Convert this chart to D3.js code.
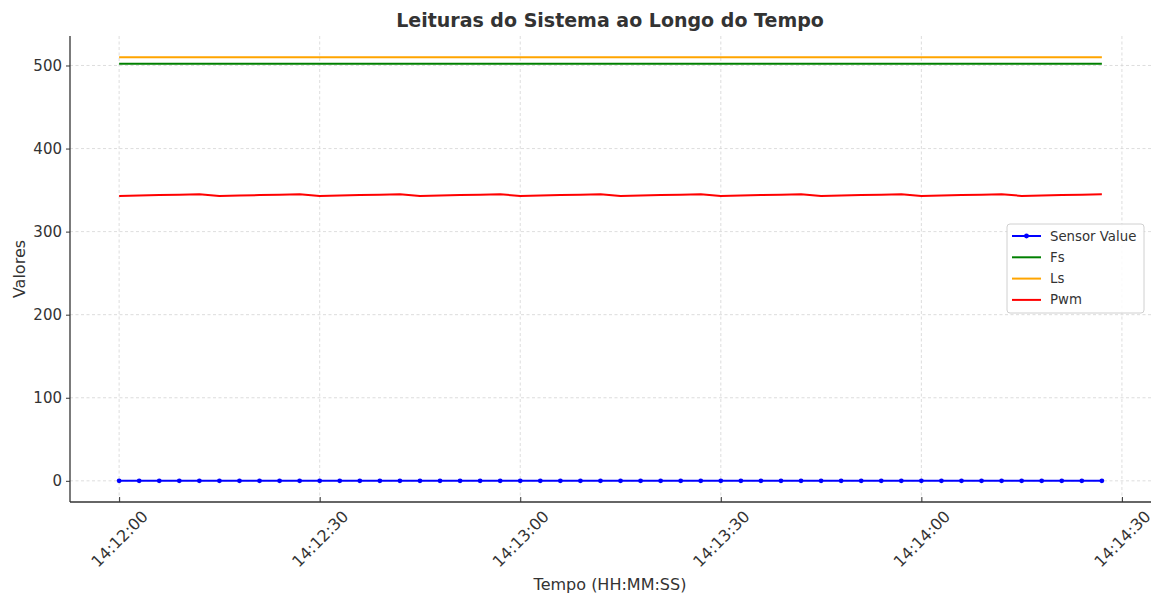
<!DOCTYPE html>
<html>
<head>
<meta charset="utf-8">
<script src="https://cdn.jsdelivr.net/npm/d3@7"></script>
<style>
  html, body { margin: 0; padding: 0; background: #fff; }
  svg { display: block; font-family: "DejaVu Sans", sans-serif; }
</style>
</head>
<body>
<svg id="chart" width="1157" height="598"></svg>
<script>
const times = [
  "14:12:00","14:12:03","14:12:06","14:12:09","14:12:12","14:12:15","14:12:18","14:12:21","14:12:24","14:12:27",
  "14:12:30","14:12:33","14:12:36","14:12:39","14:12:42","14:12:45","14:12:48","14:12:51","14:12:54","14:12:57",
  "14:13:00","14:13:03","14:13:06","14:13:09","14:13:12","14:13:15","14:13:18","14:13:21","14:13:24","14:13:27",
  "14:13:30","14:13:33","14:13:36","14:13:39","14:13:42","14:13:45","14:13:48","14:13:51","14:13:54","14:13:57",
  "14:14:00","14:14:03","14:14:06","14:14:09","14:14:12","14:14:15","14:14:18","14:14:21","14:14:24","14:14:27"
];
const sensorValue = [
  0,0,0,0,0,0,0,0,0,0, 0,0,0,0,0,0,0,0,0,0, 0,0,0,0,0,0,0,0,0,0, 0,0,0,0,0,0,0,0,0,0, 0,0,0,0,0,0,0,0,0,0
];
const fs = [
  502,502,502,502,502,502,502,502,502,502, 502,502,502,502,502,502,502,502,502,502,
  502,502,502,502,502,502,502,502,502,502, 502,502,502,502,502,502,502,502,502,502,
  502,502,502,502,502,502,502,502,502,502
];
const ls = [
  510,510,510,510,510,510,510,510,510,510, 510,510,510,510,510,510,510,510,510,510,
  510,510,510,510,510,510,510,510,510,510, 510,510,510,510,510,510,510,510,510,510,
  510,510,510,510,510,510,510,510,510,510
];
const pwm = [
  343,343.5,344,344.5,345, 343,343.5,344,344.5,345, 343,343.5,344,344.5,345, 343,343.5,344,344.5,345,
  343,343.5,344,344.5,345, 343,343.5,344,344.5,345, 343,343.5,344,344.5,345, 343,343.5,344,344.5,345,
  343,343.5,344,344.5,345, 343,343.5,344,344.5,345
];
const seriesNames = ["Sensor Value", "Fs", "Ls", "Pwm"];
const seriesColors = ["#0000ff", "#008000", "#ffa500", "#ff0000"];
const yTicks = [0, 100, 200, 300, 400, 500];
const xTickLabels = ["14:12:00","14:12:30","14:13:00","14:13:30","14:14:00","14:14:30"];
const title = "Leituras do Sistema ao Longo do Tempo";
const xLabel = "Tempo (HH:MM:SS)";
const yLabel = "Valores";

const parse = d3.timeParse("%H:%M:%S");
const fmt = d3.timeFormat("%H:%M:%S");
const tDates = times.map(parse);
const seriesData = [sensorValue, fs, ls, pwm];

const svg = d3.select("#chart");
const pLeft = 70, pRight = 1151, pTop = 36, pBottom = 502;

const tExt = d3.extent(tDates);
const span = tExt[1] - tExt[0];
const x = d3.scaleTime()
  .domain([new Date(+tExt[0] - span * 0.05), new Date(+tExt[1] + span * 0.05)])
  .range([pLeft, pRight]);
const allVals = seriesData.flat();
const yMin = d3.min(allVals), yMax = d3.max(allVals), ySpan = yMax - yMin;
const y = d3.scaleLinear()
  .domain([yMin - ySpan * 0.05, yMax + ySpan * 0.05])
  .range([pBottom, pTop]);

const xTickDates = xTickLabels.map(parse);

// grid
const grid = svg.append("g");
grid.selectAll("line.vx").data(xTickDates).join("line")
  .attr("x1", d => x(d)).attr("x2", d => x(d))
  .attr("y1", pTop).attr("y2", pBottom)
  .attr("stroke", "#d4d4d4").attr("stroke-width", 0.8).attr("stroke-dasharray", "3,2.5");
grid.selectAll("line.hy").data(yTicks).join("line")
  .attr("x1", pLeft).attr("x2", pRight)
  .attr("y1", d => y(d)).attr("y2", d => y(d))
  .attr("stroke", "#d4d4d4").attr("stroke-width", 0.8).attr("stroke-dasharray", "3,2.5");

// series
const line = d3.line().x((d, i) => x(tDates[i])).y(d => y(d));
seriesData.forEach((vals, k) => {
  svg.append("path").datum(vals)
    .attr("d", line)
    .attr("fill", "none")
    .attr("stroke", seriesColors[k])
    .attr("stroke-width", 2)
    .attr("stroke-linejoin", "round");
});
// markers for sensor value
svg.append("g").selectAll("circle").data(sensorValue).join("circle")
  .attr("cx", (d, i) => x(tDates[i])).attr("cy", d => y(d))
  .attr("r", 2.4).attr("fill", seriesColors[0]);

// axes
const yAxis = d3.axisLeft(y).tickValues(yTicks).tickSize(4).tickPadding(4);
const gy = svg.append("g").attr("transform", `translate(${pLeft},0)`).call(yAxis);
gy.select(".domain").remove();
gy.selectAll(".tick line").attr("stroke", "#333").attr("stroke-width", 1);
gy.selectAll(".tick text").attr("font-size", "15px").attr("fill", "#333")
  .attr("font-family", "DejaVu Sans, sans-serif");

const xAxis = d3.axisBottom(x).tickValues(xTickDates).tickFormat(fmt).tickSize(0);
const gx = svg.append("g").attr("transform", `translate(0,${pBottom})`).call(xAxis);
gx.select(".domain").remove();
gx.selectAll(".tick line").remove();
gx.selectAll(".tick").append("line")
  .attr("y1", 0).attr("y2", -5).attr("stroke", "#333").attr("stroke-width", 1);
gx.selectAll(".tick text")
  .attr("font-size", "16px").attr("fill", "#333")
  .attr("font-family", "DejaVu Sans, sans-serif")
  .attr("text-anchor", "middle")
  .attr("dominant-baseline", "central")
  .attr("y", 0).attr("dy", null)
  .attr("transform", "translate(0,37) rotate(-45)");

// spines
svg.append("line").attr("x1", pLeft).attr("x2", pLeft).attr("y1", pTop).attr("y2", pBottom)
  .attr("stroke", "#333").attr("stroke-width", 1.3);
svg.append("line").attr("x1", pLeft).attr("x2", pRight).attr("y1", pBottom).attr("y2", pBottom)
  .attr("stroke", "#333").attr("stroke-width", 1.3);

// title and labels
svg.append("text").attr("x", 610).attr("y", 27).attr("text-anchor", "middle")
  .attr("font-size", "19px").attr("font-weight", "bold").attr("fill", "#333").text(title);
svg.append("text").attr("x", 610).attr("y", 590).attr("text-anchor", "middle")
  .attr("font-size", "16px").attr("fill", "#333").text(xLabel);
svg.append("text").attr("transform", "translate(25,269) rotate(-90)").attr("text-anchor", "middle")
  .attr("font-size", "16px").attr("fill", "#333").text(yLabel);

// legend
const lg = svg.append("g").attr("transform", "translate(1007,224)");
lg.append("rect").attr("x", 0).attr("y", 0).attr("width", 137).attr("height", 89)
  .attr("rx", 3).attr("fill", "#fff").attr("fill-opacity", 0.85)
  .attr("stroke", "#d0d0d0").attr("stroke-width", 1);
seriesNames.forEach((name, k) => {
  const ry = 12 + k * 21.3;
  lg.append("line").attr("x1", 5).attr("x2", 34).attr("y1", ry).attr("y2", ry)
    .attr("stroke", seriesColors[k]).attr("stroke-width", 2);
  if (k === 0) {
    lg.append("circle").attr("cx", 19.5).attr("cy", ry).attr("r", 2.4).attr("fill", seriesColors[k]);
  }
  lg.append("text").attr("x", 43).attr("y", ry).attr("dominant-baseline", "central")
    .attr("font-size", "13.3px").attr("fill", "#333").text(name);
});
</script>
</body>
</html>
